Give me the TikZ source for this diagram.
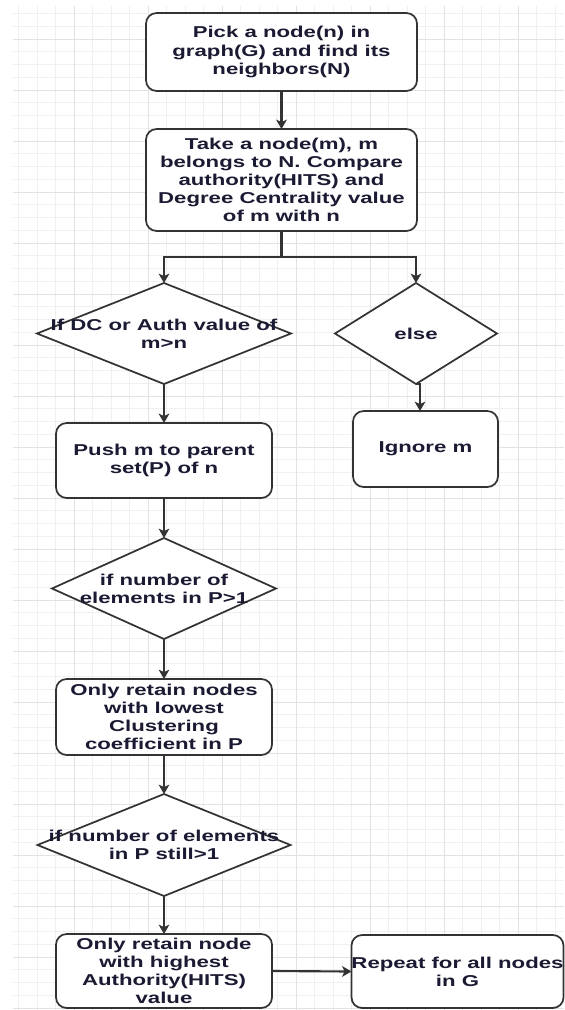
\documentclass[tikz,border=0pt]{standalone}
\usepackage{fontspec}
\newfontfamily\flowfont{Liberation Sans}[FakeStretch=1.41]
\usetikzlibrary{shapes.geometric,arrows.meta}
\definecolor{gridminor}{HTML}{F0F0F0}
\definecolor{gridmajor}{HTML}{E2E2E2}
\definecolor{edge}{HTML}{333333}
\definecolor{ink}{HTML}{1A1A33}

\begin{document}
\begin{tikzpicture}[x=0.75pt,y=-0.75pt,
  every node/.style={inner sep=0pt, outer sep=0pt},
  stepbox/.style={rectangle, draw=edge, line width=1.3pt, fill=white, rounded corners=8pt},
  decision/.style={diamond, draw=edge, line width=1.3pt, fill=white},
  txt/.style={font=\flowfont\bfseries\fontsize{11.8}{13.6}\selectfont, text=ink, align=center},
  arr/.style={draw=edge, line width=1.6pt, -{Stealth[width=8pt,length=7pt,inset=1.8pt]}},
  gminor/.style={draw=gridminor, line width=0.75pt},
  gmajor/.style={draw=gridmajor, line width=0.75pt}
]
\useasboundingbox (0,0) rectangle (564,1010);

% background grid
\foreach \k in {1,...,30}{\draw[gminor] ({18.5*\k},6) -- ({18.5*\k},1010);}
\foreach \k in {1,...,79}{\draw[gminor] (13,{0.75+12.75*\k}) -- (564,{0.75+12.75*\k});}
\foreach \k in {1,...,7}{\draw[gmajor] ({74*\k},6) -- ({74*\k},1010);}
\foreach \k in {0,...,19}{\draw[gmajor] (13,{39+51*\k}) -- (564,{39+51*\k});}

% process steps
\node[stepbox, txt, minimum width=203.25pt, minimum height=58.5pt] (b1) at (281.5,52)
  {Pick a node(n) in\\graph(G) and find its\\neighbors(N)};
\node[stepbox, txt, minimum width=203.25pt, minimum height=76.5pt] (b2) at (281.5,180)
  {Take a node(m), m\\belongs to N. Compare\\authority(HITS) and\\Degree Centrality value\\of m with n};

% first decision
\node[decision, minimum width=190.5pt, minimum height=75.75pt] (d1) at (164,333.5) {};
\node[txt] (d1t) at (d1) {If DC or Auth value of\\m>n};
\node[decision, minimum width=121.5pt, minimum height=75.75pt] (d2) at (416,333.5) {};
\node[txt] (d2t) at (d2) {else};

\node[stepbox, txt, minimum width=162pt, minimum height=56.25pt] (push) at (164,460.5)
  {Push m to parent\\set(P) of n};
\node[stepbox, txt, minimum width=108.75pt, minimum height=57pt] (ign) at (425.5,449)
  {Ignore m};

% second decision
\node[decision, minimum width=168pt, minimum height=75.75pt] (d3) at (164,588.5) {};
\node[txt] (d3t) at (d3) {if number of\\elements in P>1};
\node[stepbox, txt, minimum width=162pt, minimum height=57pt] (b5) at (164,717)
  {Only retain nodes\\with lowest\\Clustering\\coefficient in P};

% third decision
\node[decision, minimum width=189.75pt, minimum height=76.5pt] (d4) at (164,845) {};
\node[txt] (d4t) at (d4) {if number of elements\\in P still>1};
\node[stepbox, txt, minimum width=162pt, minimum height=55.5pt] (b6) at (164,971)
  {Only retain node\\with highest\\Authority(HITS)\\value};
\node[stepbox, txt, minimum width=156.75pt, minimum height=54.75pt] (rep) at (457.5,971.5)
  {Repeat for all nodes\\in G};

% connectors
\draw[arr] (b1.south) -- (b2.north);
\draw[arr] (b2.south) -- ++(0,26) -| (d1.north);
\draw[arr] (b2.south) -- ++(0,26) -| (d2.north);
\draw[arr] (d1.south) -- (push.north);
\coordinate (d2out) at ([xshift=3pt]d2.south);
\draw[arr] (d2.south) -- (d2out) -- (d2out |- ign.north);
\draw[arr] (push.south) -- (d3.north);
\draw[arr] (d3.south) -- (b5.north);
\draw[arr] (b5.south) -- (d4.north);
\draw[arr] (d4.south) -- (b6.north);
\draw[arr] (b6.east) -- (rep.west);
\end{tikzpicture}
\end{document}
